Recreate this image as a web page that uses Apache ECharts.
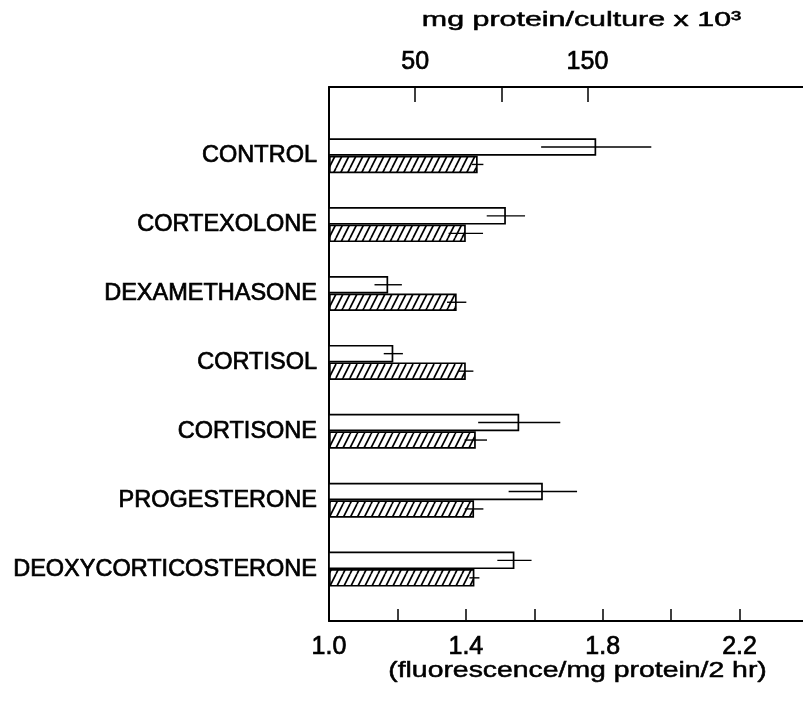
<!DOCTYPE html>
<html><head><meta charset="utf-8">
<script src="https://cdn.jsdelivr.net/npm/echarts@6/dist/echarts.min.js"></script>
<style>html,body{margin:0;padding:0;background:#fff}#c{width:803px;height:708px}</style>
</head><body><div id="c"></div>
<script>
// ---- data ----
const categories = ['CONTROL','CORTEXOLONE','DEXAMETHASONE','CORTISOL','CORTISONE','PROGESTERONE','DEOXYCORTICOSTERONE'];
const fluorescence = [1.781, 1.517, 1.173, 1.188, 1.556, 1.625, 1.542];
const fluorescenceErr = [0.161, 0.056, 0.040, 0.028, 0.120, 0.100, 0.050];
const protein = [86.3, 79.4, 74.1, 79.4, 85.2, 84.2, 84.4];
const proteinErr = [3.3, 10.0, 5.6, 4.4, 6.5, 5.4, 2.9];
const bottomTickLabels = ['1.0','1.4','1.8','2.2'];
const topTicks = [50, 100, 150];
const topTickLabels = [50, 150];

// ---- style ----
const FONT = '"Liberation Sans", Arial, sans-serif';
const BAR_W = 17.5;
const LEFT = 329, RIGHT = -5;

function hatchPattern() {
  const w = 7, h = 14;
  const c = document.createElement('canvas');
  c.width = w; c.height = h;
  const g = c.getContext('2d');
  g.fillStyle = '#fff'; g.fillRect(0, 0, w, h);
  g.strokeStyle = '#000'; g.lineWidth = 1.7;
  g.beginPath();
  g.moveTo(0, h); g.lineTo(w, 0);
  g.moveTo(-w, h); g.lineTo(0, 0);
  g.moveTo(w, h); g.lineTo(2 * w, 0);
  g.stroke();
  return c;
}

function errSeries(vals, errs, xIdx, sign) {
  return {
    type: 'custom', xAxisIndex: xIdx, yAxisIndex: 1, silent: true, clip: false, z: 5,
    data: vals.map((v, i) => [v, i, errs[i]]),
    encode: { x: 0, y: 1 },
    renderItem: (params, api) => {
      const v = api.value(0), c = api.value(1), e = api.value(2);
      const p1 = api.coord([v - e, c]), p2 = api.coord([v + e, c]);
      const y = p1[1] + sign * BAR_W / 2;
      return { type: 'line', shape: { x1: p1[0], y1: y, x2: p2[0], y2: y },
               style: { stroke: '#000', lineWidth: 1.4 } };
    }
  };
}

const axisLineStyle = { show: true, onZero: false, lineStyle: { color: '#000', width: 2 } };
const heavy = { textBorderColor: '#000', textBorderWidth: 0.7 };

const chart = echarts.init(document.getElementById('c'), null, { renderer: 'canvas' });
chart.setOption({
  animation: false,
  backgroundColor: '#fff',
  grid: [
    { left: LEFT, right: RIGHT, top: 87, bottom: 87, outerBoundsMode: 'none', containLabel: false },
    { left: LEFT, right: RIGHT, top: 121.25, height: 482.3, outerBoundsMode: 'none', containLabel: false }
  ],
  xAxis: [
    { gridIndex: 0, type: 'value', position: 'bottom', min: 1.0, max: 2.4, interval: 0.2,
      axisLine: axisLineStyle,
      axisTick: { show: true, inside: true, length: 12, lineStyle: { color: '#000', width: 1.5 } },
      axisLabel: Object.assign({ margin: 14, fontSize: 25, color: '#000', fontFamily: FONT,
        formatter: v => { const s = v.toFixed(1); return bottomTickLabels.includes(s) ? s : ''; } }, heavy),
      splitLine: { show: false } },
    { gridIndex: 0, type: 'value', position: 'top', min: 0, max: 278,
      axisLine: axisLineStyle,
      axisTick: { show: true, inside: true, length: 15, customValues: topTicks, lineStyle: { color: '#000', width: 1.5 } },
      axisLabel: Object.assign({ customValues: topTickLabels, margin: 12, fontSize: 25, color: '#000', fontFamily: FONT }, heavy),
      splitLine: { show: false } },
    { gridIndex: 1, type: 'value', min: 1.0, max: 2.4, show: false },
    { gridIndex: 1, type: 'value', position: 'top', min: 0, max: 278, show: false }
  ],
  yAxis: [
    { gridIndex: 0, type: 'value', min: 0, max: 1, axisLine: axisLineStyle,
      axisTick: { show: false }, axisLabel: { show: false }, splitLine: { show: false } },
    { gridIndex: 1, type: 'category', inverse: true, data: categories,
      axisLine: { show: false, onZero: false }, axisTick: { show: false },
      axisLabel: Object.assign({ margin: 12, fontSize: 23.5, color: '#000', fontFamily: FONT }, heavy) }
  ],
  series: [
    { type: 'bar', name: 'fluorescence', xAxisIndex: 2, yAxisIndex: 1, data: fluorescence,
      barWidth: BAR_W, barGap: '0%',
      itemStyle: { color: '#fff', borderColor: '#000', borderWidth: 1.7 } },
    { type: 'bar', name: 'protein', xAxisIndex: 3, yAxisIndex: 1, data: protein,
      barWidth: BAR_W, barGap: '0%',
      itemStyle: { color: { image: hatchPattern(), repeat: 'repeat' }, borderColor: '#000', borderWidth: 1.7 } },
    errSeries(fluorescence, fluorescenceErr, 2, -1),
    errSeries(protein, proteinErr, 3, 1)
  ],
  graphic: [
    { type: 'text', x: 581.5, y: 20, scaleX: 1.52, silent: true,
      style: { text: 'mg protein/culture x 10³', font: '20px ' + FONT, fill: '#000',
               stroke: '#000', lineWidth: 0.5,
               textAlign: 'center', textVerticalAlign: 'middle' } },
    { type: 'text', x: 577.5, y: 670.5, scaleX: 1.29, silent: true,
      style: { text: '(fluorescence/mg protein/2 hr)', font: '22px ' + FONT, fill: '#000',
               stroke: '#000', lineWidth: 0.5,
               textAlign: 'center', textVerticalAlign: 'middle' } }
  ]
});
</script>
</body></html>
